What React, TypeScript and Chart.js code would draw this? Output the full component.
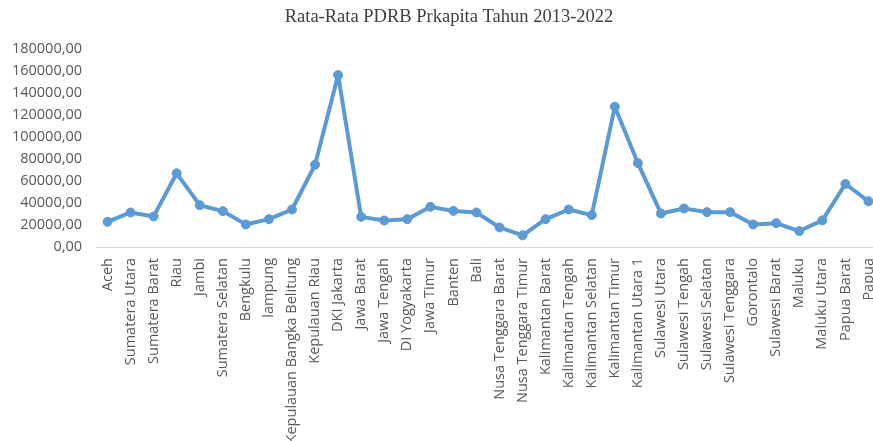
import React, { useEffect, useRef } from "react";
import { Chart, registerables } from "chart.js";

Chart.register(...registerables);

const provinces: string[] = [
  "Aceh", "Sumatera Utara", "Sumatera Barat", "Riau", "Jambi", "Sumatera Selatan",
  "Bengkulu", "lampung", "Kepulauan Bangka Belitung", "Kepulauan Riau", "DKI Jakarta",
  "Jawa Barat", "Jawa Tengah", "DI Yogyakarta", "Jawa Timur", "Banten", "Bali",
  "Nusa Tenggara Barat", "Nusa Tenggara Timur", "Kalimantan Barat", "Kalimantan Tengah",
  "Kalimantan Selatan", "Kalimantan Timur", "Kalimantan Utara 1", "Sulawesi Utara",
  "Sulawesi Tengah", "Sulawesi Selatan", "Sulawesi Tenggara", "Gorontalo",
  "Sulawesi Barat", "Maluku", "Maluku Utara", "Papua Barat", "Papua",
];

// Average GRDP per capita 2013-2022
const avgPdrb: number[] = [
  22900, 31400, 27800, 67000, 38000, 32600,
  20500, 25300, 34100, 74800, 156300,
  27400, 24100, 25300, 36500, 32800, 31400,
  17800, 10600, 25300, 34100,
  29000, 127600, 76300, 30500,
  35000, 31700, 31700, 20500,
  21700, 14500, 24200, 57300, 41600,
];

const yMin = 0;
const yMax = 180000;
const yStep = 20000;

const chartTitle = "Rata-Rata PDRB Prkapita Tahun 2013-2022";

const BLUE = "#5B9BD5";
const TEXT = "#595959";

// Title drawn centred on the visible page width (the plot runs past the right edge)
const pageTitle = {
  id: "pageTitle",
  afterDraw(chart: any) {
    const ctx = chart.ctx;
    ctx.save();
    ctx.font = "18.5px 'Liberation Serif', serif";
    ctx.fillStyle = "#404040";
    ctx.textAlign = "center";
    ctx.textBaseline = "middle";
    ctx.fillText(chartTitle, 449, 17);
    ctx.restore();
  },
};

export default function App() {
  const canvasRef = useRef<HTMLCanvasElement | null>(null);

  useEffect(() => {
    const canvas = canvasRef.current;
    if (!canvas) return;
    const chart = new Chart(canvas, {
      type: "line",
      data: {
        labels: provinces,
        datasets: [
          {
            data: avgPdrb,
            borderColor: BLUE,
            backgroundColor: BLUE,
            borderWidth: 4,
            borderJoinStyle: "round",
            borderCapStyle: "round",
            pointRadius: 4.5,
            pointBorderWidth: 1,
            pointBackgroundColor: BLUE,
            pointBorderColor: BLUE,
            tension: 0,
          },
        ],
      },
      options: {
        animation: false,
        responsive: false,
        devicePixelRatio: 1,
        layout: { padding: { left: 0, right: 10, top: 49, bottom: 0 } },
        plugins: {
          legend: { display: false },
          tooltip: { enabled: false },
          title: { display: false },
        },
        scales: {
          x: {
            offset: true,
            grid: { display: false, drawTicks: false },
            border: { display: true, color: "#D9D9D9", width: 1 },
            ticks: {
              autoSkip: false,
              maxRotation: 90,
              minRotation: 90,
              padding: 11,
              color: TEXT,
              font: { family: "'Open Sans', sans-serif", size: 14.5 },
            },
            afterFit: (scale: any) => {
              scale.height = 194;
            },
          },
          y: {
            min: yMin,
            max: yMax,
            grid: { display: false, drawTicks: false },
            border: { display: false },
            ticks: {
              stepSize: yStep,
              padding: 14,
              color: TEXT,
              font: { family: "'Open Sans', sans-serif", size: 14.5 },
              callback: (v: any) => Number(v).toFixed(2).replace(".", ","),
            },
            afterFit: (scale: any) => {
              scale.width = 96;
            },
          },
        },
      },
      plugins: [pageTitle],
    });
    return () => chart.destroy();
  }, []);

  return (
    <div
      style={{
        position: "fixed",
        left: 0,
        top: 0,
        width: 873,
        height: 441,
        overflow: "hidden",
        background: "#fff",
      }}
    >
      <canvas ref={canvasRef} width={897} height={441} style={{ display: "block" }} />
    </div>
  );
}
